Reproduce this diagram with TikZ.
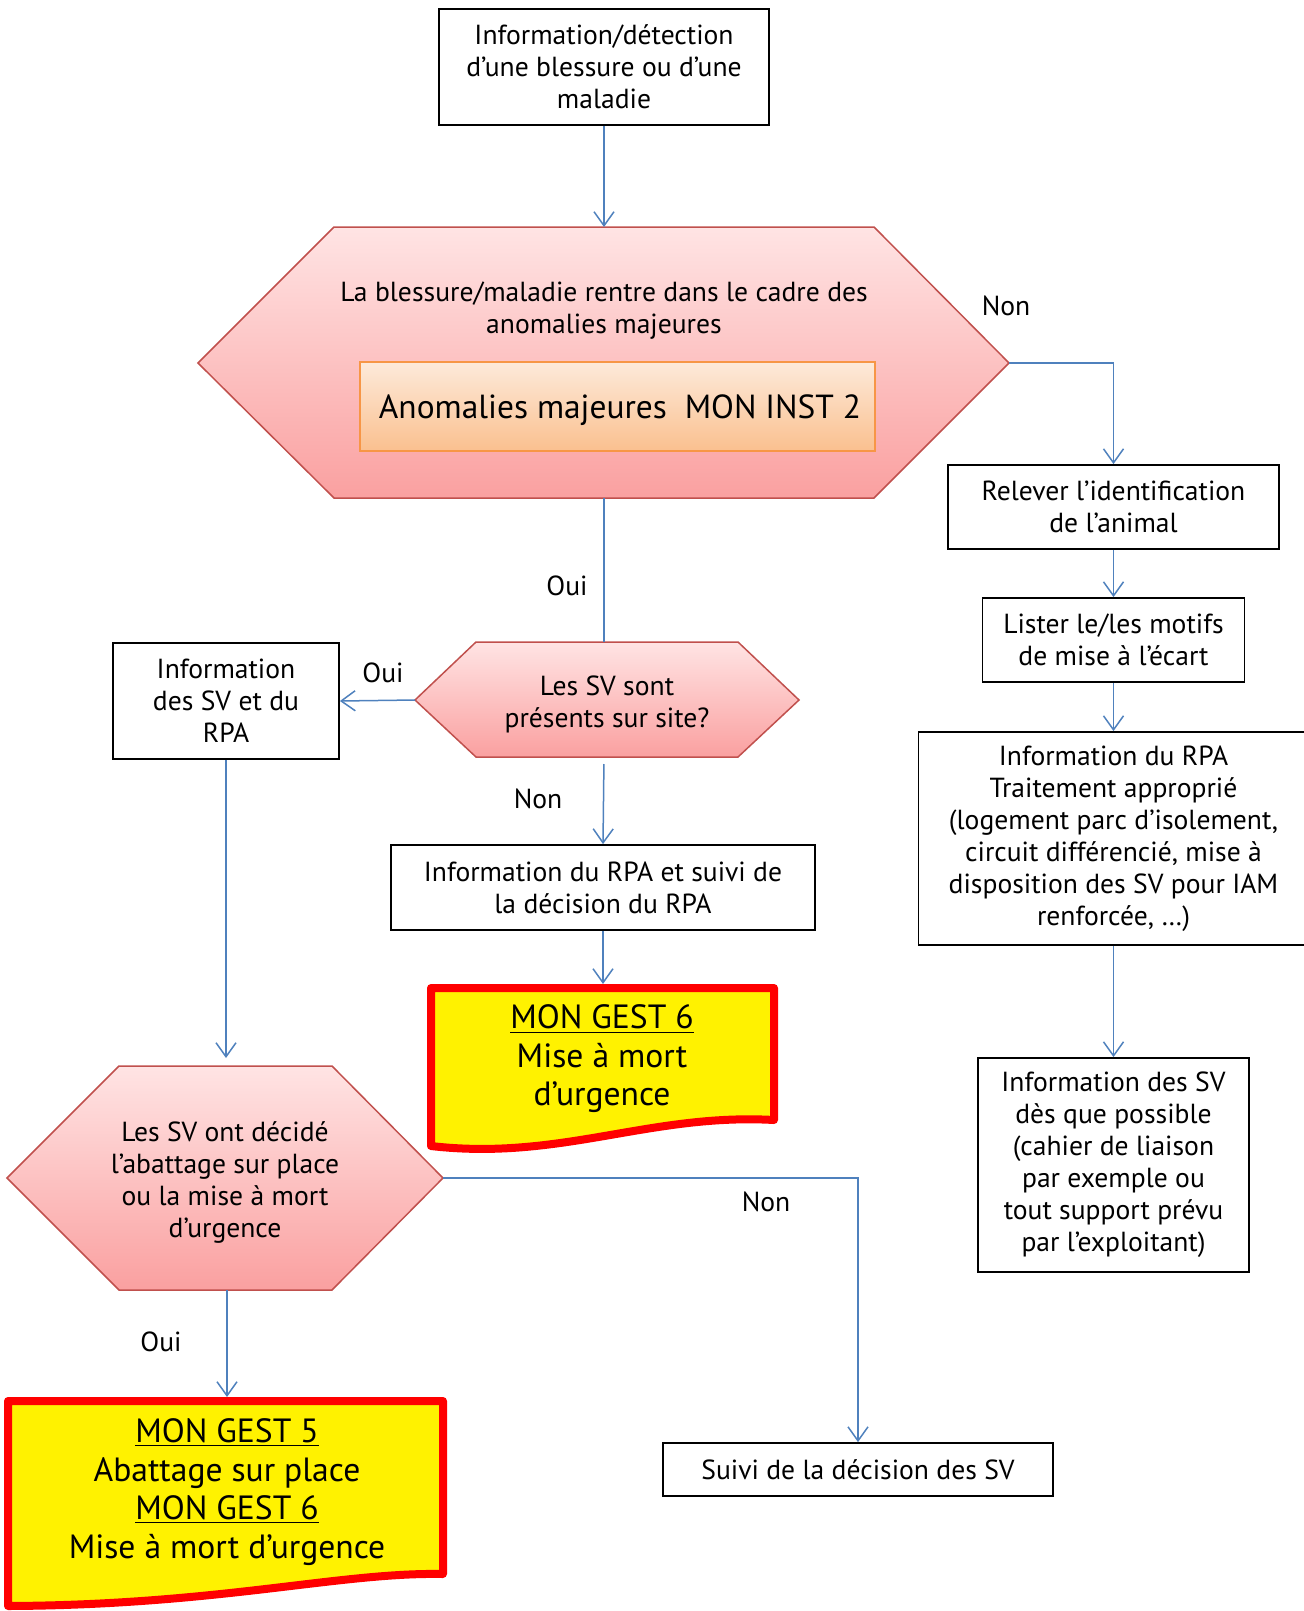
\documentclass[tikz,border=0pt]{standalone}
\usepackage{fontspec}
\setmainfont{PT Sans}
\usetikzlibrary{arrows.meta}
\definecolor{lineblue}{RGB}{79,129,189}
\definecolor{hexline}{RGB}{192,80,77}
\definecolor{hextop}{RGB}{255,228,228}
\definecolor{hexbot}{RGB}{250,160,160}
\definecolor{orangeline}{RGB}{247,150,70}
\definecolor{orangetop}{RGB}{253,234,218}
\definecolor{orangebot}{RGB}{250,192,143}
\newcommand{\boxfont}{\fontsize{13.8}{16}\selectfont}
\newcommand{\docfont}{\fontsize{16.8}{19.25}\selectfont}
\tikzset{
    box/.style={rectangle, draw=black, line width=0.9pt, align=center, font=\boxfont, inner sep=0pt},
    hexa/.style={draw=hexline, line width=0.75pt, top color=hextop, bottom color=hexbot},
    refbox/.style={rectangle, draw=orangeline, line width=0.75pt, top color=orangetop, bottom color=orangebot},
    docbox/.style={draw=red, line width=4pt, fill=yellow, line join=round},
    lbl/.style={align=center, font=\boxfont, inner sep=0pt},
    doclbl/.style={align=center, font=\docfont, inner sep=0pt},
    arrow/.style={draw=lineblue, line width=0.75pt, -{Straight Barb[length=7pt,width=10pt]}},
    link/.style={draw=lineblue, line width=0.75pt}
}
\begin{document}
\begin{tikzpicture}[x=0.5pt, y=-0.5pt]
    \useasboundingbox (0,0) rectangle (1304,1611);

    % Start
    \node[box, minimum width=165pt, minimum height=58pt, text depth=0pt] (info) at (604,67) {Information/détection\\d’une blessure ou d’une\\maladie};

    % Question 1 (major anomalies)
    \draw[hexa] (198,363) -- (334,227) -- (874,227) -- (1009,363) -- (874,498) -- (334,498) -- cycle;
    \coordinate (h1n) at (604,227);
    \coordinate (h1e) at (1009,363);
    \coordinate (h1s) at (604,498);
    \node[lbl] (majq) at (604,311) {La blessure/maladie rentre dans le cadre des\\anomalies majeures};
    \node[refbox, minimum width=257.5pt, minimum height=44.5pt] (maj) at (617.5,406.5) {};
    \node[inner sep=0pt, font=\fontsize{16.7}{20}\selectfont] (majtxt) at (620,410) {Anomalies majeures\ \ MON INST 2};

    % Right branch (Non)
    \node[box, minimum width=165.5pt, minimum height=42pt] (relever) at (1113.5,507) {Relever l’identification\\de l’animal};
    \node[box, minimum width=131pt, minimum height=42pt] (lister) at (1113.5,640) {Lister le/les motifs\\de mise à l’écart};
    \node[box, minimum width=195pt, minimum height=106.5pt] (rparight) at (1113.5,838.5) {Information du RPA\\Traitement approprié\\(logement parc d’isolement,\\circuit différencié, mise à\\disposition des SV pour IAM\\renforcée, …)};
    \node[box, minimum width=135.5pt, minimum height=107pt] (svlater) at (1113.5,1165) {Information des SV\\dès que possible\\(cahier de liaison\\par exemple ou\\tout support prévu\\par l’exploitant)};

    % Question 2 (SV on site)
    \draw[hexa] (415,700) -- (476,642) -- (738,642) -- (799,700) -- (738,757) -- (476,757) -- cycle;
    \coordinate (h2n) at (604,642);
    \coordinate (h2w) at (415,700);
    \coordinate (h2s) at (604,757);
    \node[lbl] (svq) at (607,704) {Les SV sont\\présents sur site?};
    \node[box, minimum width=113pt, minimum height=58pt, text depth=0pt] (infosv) at (226,701) {Information\\des SV et du\\RPA};
    \node[box, minimum width=212pt, minimum height=42.5pt] (suivirpa) at (603,887.5) {Information du RPA et suivi de\\la décision du RPA};

    % MON GEST 6
    \draw[docbox] (431,988) -- (774,988) -- (774,1120) .. controls (650,1113) and (560,1161) .. (431,1146) -- cycle;
    \coordinate (g6n) at (603,984);
    \node[doclbl] (gest6) at (602,1059) {\underline{MON GEST 6}\\Mise à mort\\d’urgence};

    % Question 3 (decision of SV)
    \draw[hexa] (7,1178) -- (119,1066) -- (332,1066) -- (443,1178) -- (332,1290) -- (119,1290) -- cycle;
    \coordinate (h3n) at (226,1066);
    \coordinate (h3e) at (443,1178);
    \coordinate (h3s) at (227,1290);
    \node[lbl] (abq) at (225,1182) {Les SV ont décidé\\l’abattage sur place\\ou la mise à mort\\d’urgence};
    \node[box, minimum width=195pt, minimum height=26.5pt] (suivi) at (858,1469.5) {Suivi de la décision des SV};

    % MON GEST 5
    \draw[docbox] (8,1401) -- (443,1401) -- (443,1574) .. controls (340,1572) and (220,1605) .. (8,1606) -- cycle;
    \coordinate (g5n) at (227,1397);
    \node[doclbl] (gest5) at (227,1492) {\underline{MON GEST 5}\\Abattage sur place\\\underline{MON GEST 6}\\Mise à mort d’urgence};

    % Connectors
    \draw[arrow] (info.south) -- (h1n);
    \draw[arrow] (h1e) -| (relever.north);
    \draw[arrow] (relever) -- (lister);
    \draw[arrow] (lister) -- (rparight);
    \draw[arrow] (rparight) -- (svlater);
    \draw[link] (h1s) -- (h2n);
    \draw[arrow] (h2w) -- (infosv.east);
    \draw[arrow, shorten <=3.5pt] (h2s) -- (suivirpa.north);
    \draw[arrow] (suivirpa) -- (g6n);
    \draw[arrow, shorten >=4pt] (infosv.south) -- (h3n);
    \draw[arrow] (h3s) -- (g5n);
    \draw[arrow] (h3e) -| (suivi.north);

    % Labels
    \node[lbl] (non1) at (1006,306) {Non};
    \node[lbl] (oui1) at (567,586) {Oui};
    \node[lbl] (oui2) at (383,673) {Oui};
    \node[lbl] (non2) at (538,799) {Non};
    \node[lbl] (non3) at (766,1202) {Non};
    \node[lbl] (oui3) at (161,1342) {Oui};
\end{tikzpicture}
\end{document}
